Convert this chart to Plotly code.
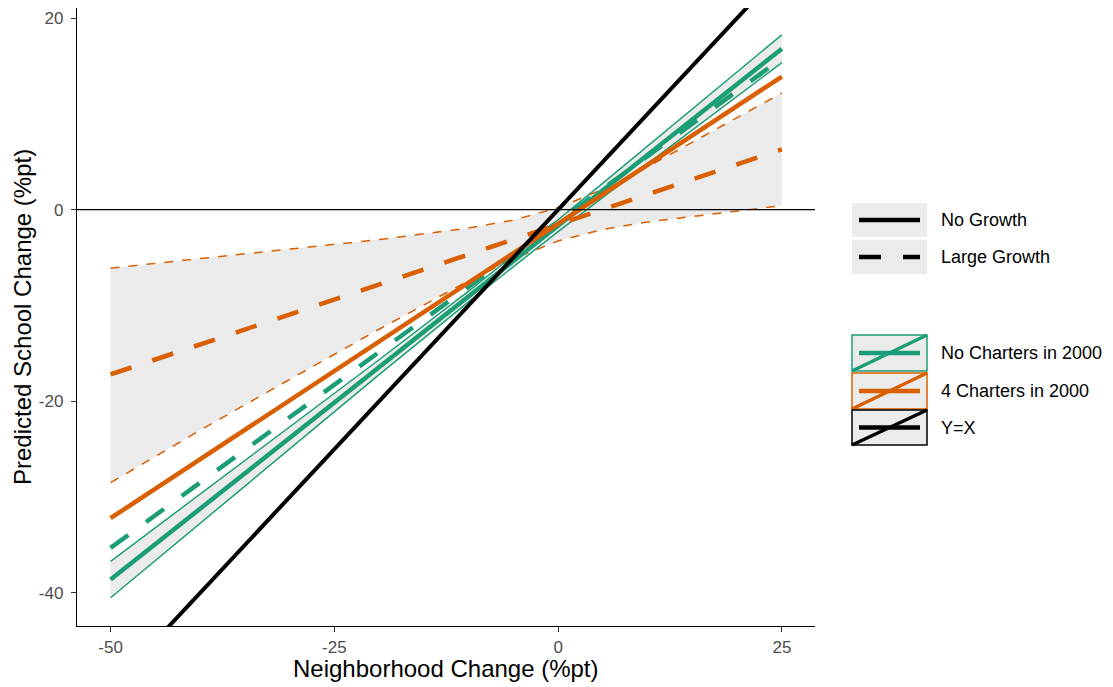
import plotly.graph_objects as go
import numpy as np

# ---------------- data ----------------
x_line = [-50, 25]
green_solid = [-38.6, 16.8]      # No Charters in 2000, No Growth
green_dashed = [-35.3, 15.8]     # No Charters in 2000, Large Growth
orange_solid = [-32.2, 13.9]     # 4 Charters in 2000, No Growth
orange_dashed = [-17.2, 6.3]     # 4 Charters in 2000, Large Growth

x_band = [-50, -40, -30, -20, -10, -5, 0, 5, 10, 20, 25]
green_upper = [-36.70, -29.71, -22.71, -15.66, -8.50, -4.81, -1.05, 2.77, 6.62, 14.37, 18.25]
green_lower = [-40.50, -32.71, -24.95, -17.22, -9.62, -5.91, -2.29, 1.29, 4.82, 11.85, 15.35]
orange_upper = [-6.10, -5.12, -4.14, -3.12, -1.92, -1.08, 0.20, 2.13, 4.48, 9.57, 12.18]
orange_lower = [-28.49, -23.02, -17.72, -12.48, -7.42, -5.12, -3.26, -2.07, -1.28, -0.11, 0.42]

x_ticks = [-50, -25, 0, 25]
y_ticks = [-40, -20, 0, 20]
x_range = [-53.75, 28.7]
y_range = [-43.45, 21.05]

linetype_labels = ["No Growth", "Large Growth"]
colour_labels = ["No Charters in 2000", "4 Charters in 2000", "Y=X"]

# ---------------- styles ----------------
GREEN = "#1B9E77"
ORANGE = "#D95F02"
BLACK = "#000000"
FILL = "#EBEBEB"
FONT = "Liberation Sans, Arial, sans-serif"
THICK = 4.5
THIN = 1.5
DASH = "22px,22px"
THIN_DASH = "9px,9px"

OFF = 8                      # page body margin of the browser
W, H = 1113 - OFF, 687 - OFF
# plot area in screenshot pixels
SL, SR, ST, SB = 77, 815, 8, 626
L, R, T, B = SL - OFF, SR - OFF, ST - OFF, SB - OFF

fig = go.Figure()

# ribbons
fig.add_trace(go.Scatter(x=x_band + x_band[::-1], y=green_upper + green_lower[::-1],
                         fill="toself", fillcolor=FILL, line=dict(width=0),
                         mode="lines", hoverinfo="skip", showlegend=False))
fig.add_trace(go.Scatter(x=x_band + x_band[::-1], y=orange_upper + orange_lower[::-1],
                         fill="toself", fillcolor=FILL, line=dict(width=0),
                         mode="lines", hoverinfo="skip", showlegend=False))

# ribbon bounds
for yy in (green_upper, green_lower):
    fig.add_trace(go.Scatter(x=x_band, y=yy, mode="lines",
                             line=dict(color=GREEN, width=THIN), showlegend=False))
for yy in (orange_upper, orange_lower):
    fig.add_trace(go.Scatter(x=x_band, y=yy, mode="lines",
                             line=dict(color=ORANGE, width=THIN, dash=THIN_DASH), showlegend=False))

# main lines
fig.add_trace(go.Scatter(x=x_line, y=green_solid, mode="lines",
                         line=dict(color=GREEN, width=THICK), showlegend=False))
fig.add_trace(go.Scatter(x=x_line, y=green_dashed, mode="lines",
                         line=dict(color=GREEN, width=THICK, dash=DASH), showlegend=False))
fig.add_trace(go.Scatter(x=x_line, y=orange_solid, mode="lines",
                         line=dict(color=ORANGE, width=THICK), showlegend=False))
fig.add_trace(go.Scatter(x=x_line, y=orange_dashed, mode="lines",
                         line=dict(color=ORANGE, width=THICK, dash=DASH), showlegend=False))

# Y = X reference line across the panel
xr = np.array(x_range)
fig.add_trace(go.Scatter(x=xr, y=xr, mode="lines",
                         line=dict(color=BLACK, width=4), showlegend=False))

# horizontal zero line
fig.add_shape(type="line", xref="x domain", yref="y", x0=0, x1=1, y0=0, y1=0,
              line=dict(color=BLACK, width=1.3), layer="above")


# ---------------- manual ggplot-style legend ----------------
# helpers take screenshot pixel coordinates
def px(xp):
    return (xp - SL) / (SR - SL)


def py(yp):
    return (SB - yp) / (SB - ST)


shapes = []
annots = []
kx0, kx1 = 852, 927
lx0, lx1 = 859, 920
text_x = 939
LEG_FONT = 18

# linetype legend
lt_boxes = [(203, 237), (240, 274)]
for (y0, y1), lab, dash in zip(lt_boxes, linetype_labels, ["solid", DASH]):
    shapes.append(dict(type="rect", xref="paper", yref="paper",
                       x0=px(kx0), x1=px(kx1), y0=py(y1), y1=py(y0),
                       fillcolor=FILL, line=dict(width=0), layer="above"))
    yc = (y0 + y1) / 2
    shapes.append(dict(type="line", xref="paper", yref="paper",
                       x0=px(lx0), x1=px(lx1), y0=py(yc), y1=py(yc),
                       line=dict(color=BLACK, width=THICK, dash=dash), layer="above"))
    annots.append(dict(x=px(text_x), y=py(yc), xref="paper", yref="paper",
                       text=lab, showarrow=False, xanchor="left", yanchor="middle",
                       font=dict(family=FONT, size=LEG_FONT, color="#000000")))

# colour legend
c_boxes = [(335, 371), (373, 409), (410, 445)]
for (y0, y1), lab, col in zip(c_boxes, colour_labels, [GREEN, ORANGE, BLACK]):
    shapes.append(dict(type="rect", xref="paper", yref="paper",
                       x0=px(kx0), x1=px(kx1), y0=py(y1), y1=py(y0),
                       fillcolor=FILL, line=dict(color=col, width=1.5), layer="above"))
    yc = (y0 + y1) / 2
    shapes.append(dict(type="line", xref="paper", yref="paper",
                       x0=px(lx0), x1=px(lx1), y0=py(yc), y1=py(yc),
                       line=dict(color=col, width=THICK), layer="above"))
    shapes.append(dict(type="line", xref="paper", yref="paper",
                       x0=px(kx0), x1=px(kx1), y0=py(y1), y1=py(y0),
                       line=dict(color=col, width=3.5), layer="above"))
    annots.append(dict(x=px(text_x), y=py(yc), xref="paper", yref="paper",
                       text=lab, showarrow=False, xanchor="left", yanchor="middle",
                       font=dict(family=FONT, size=LEG_FONT, color="#000000")))

# axis titles
annots.append(dict(x=0.5, y=py(668), xref="paper", yref="paper",
                   text="Neighborhood Change (%pt)", showarrow=False,
                   xanchor="center", yanchor="middle",
                   font=dict(family=FONT, size=24, color="#000000")))
annots.append(dict(x=px(22), y=py(317), xref="paper", yref="paper",
                   text="Predicted School Change (%pt)", showarrow=False, textangle=-90,
                   xanchor="center", yanchor="middle",
                   font=dict(family=FONT, size=24, color="#000000")))

for s in shapes:
    fig.add_shape(**s)

fig.update_layout(
    width=W, height=H,
    margin=dict(l=L, r=W - R, t=T, b=H - B, pad=0, autoexpand=False),
    paper_bgcolor="white", plot_bgcolor="white",
    annotations=annots,
    showlegend=False,
    font=dict(family=FONT),
)

fig.update_xaxes(range=x_range, tickvals=x_ticks, ticktext=[str(v) for v in x_ticks],
                 showgrid=False, zeroline=False, showline=True, linecolor=BLACK, linewidth=1.3,
                 ticks="outside", ticklen=5, tickwidth=1.2, tickcolor="#333333",
                 tickfont=dict(family=FONT, size=17, color="#4D4D4D"), automargin=False)
fig.update_yaxes(range=y_range, tickvals=y_ticks, ticktext=[str(v) for v in y_ticks],
                 showgrid=False, zeroline=False, showline=True, linecolor=BLACK, linewidth=1.3,
                 ticks="outside", ticklen=5, tickwidth=1.2, tickcolor="#333333",
                 ticklabelstandoff=4,
                 tickfont=dict(family=FONT, size=17, color="#4D4D4D"), automargin=False)

fig.write_html("out.html")
